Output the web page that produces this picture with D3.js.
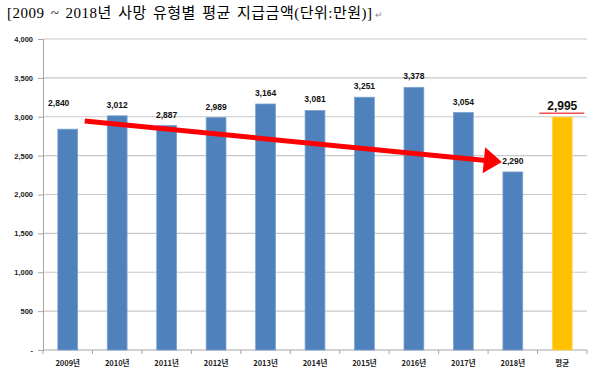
<!DOCTYPE html>
<html>
<head>
<meta charset="utf-8">
<script src="https://d3js.org/d3.v7.min.js"></script>
<style>
  body { margin: 0; background: #fff; }
</style>
</head>
<body>
<script>
// chart data
const categories = ["2009년", "2010년", "2011년", "2012년", "2013년", "2014년", "2015년", "2016년", "2017년", "2018년", "평균"];
const values = [2840, 3012, 2887, 2989, 3164, 3081, 3251, 3378, 3054, 2290, 2995];
const yTicks = [0, 500, 1000, 1500, 2000, 2500, 3000, 3500, 4000];
const titleText = "[2009 ~ 2018년 사망 유형별 평균 지급금액(단위:만원)]";
// trend arrow: from 2009 to 2018, in data units
const arrowFrom = { cat: "2009년", value: 2945 };
const arrowTo = { cat: "2018년", value: 2418 };

const width = 599, height = 373;
const margin = { left: 43, right: 12, top: 39, bottom: 23 };

const svg = d3.select("body").append("svg")
    .attr("width", width)
    .attr("height", height);

let title = svg.append("text")
    .attr("x", 7)
    .attr("y", 18)
    .attr("font-family", "'Liberation Serif', 'Noto Sans CJK KR', serif")
    .attr("font-size", "15px")
    .attr("letter-spacing", "0.5px")
    .attr("word-spacing", "2px")
    .attr("fill", "#000");
title.append("tspan").text(titleText);
title.append("tspan")
    .attr("font-size", "9px")
    .attr("fill", "#888")
    .attr("dx", 2)
    .text("↵");

let x = d3.scaleBand()
    .domain(categories)
    .range([margin.left, width - margin.right])
    .paddingInner(0.6)
    .paddingOuter(0.3);

let y = d3.scaleLinear()
    .domain([0, 4000])
    .range([height - margin.bottom, margin.top]);

// gridlines
svg.append("g")
    .selectAll("line")
    .data(yTicks.slice(1))
    .join("line")
        .attr("x1", margin.left)
        .attr("x2", width - margin.right)
        .attr("y1", d => y(d))
        .attr("y2", d => y(d))
        .attr("stroke", "#c8c8c8")
        .attr("stroke-width", 1.2);

// y axis
let yAxis = d3.axisLeft(y)
    .tickValues(yTicks)
    .tickSize(5)
    .tickFormat(d => d === 0 ? "-" : d3.format(",")(d));

let gy = svg.append("g")
    .attr("transform", `translate(${margin.left},0)`)
    .call(yAxis);
gy.select(".domain").attr("stroke", "#a6a6a6");
gy.selectAll(".tick line").attr("stroke", "#a6a6a6");
gy.selectAll("text")
    .attr("x", -10)
    .attr("font-family", "'Liberation Sans', Arial, sans-serif")
    .attr("font-weight", "bold")
    .attr("font-size", "7.5px")
    .attr("fill", "#222");

// x axis line + tick marks between categories
let step = x.step();
let gx = svg.append("g");
gx.append("line")
    .attr("x1", margin.left)
    .attr("x2", width - margin.right)
    .attr("y1", y(0))
    .attr("y2", y(0))
    .attr("stroke", "#a6a6a6");
gx.selectAll("line.tk")
    .data(d3.range(categories.length + 1))
    .join("line")
        .attr("class", "tk")
        .attr("x1", i => margin.left + i * step)
        .attr("x2", i => margin.left + i * step)
        .attr("y1", y(0))
        .attr("y2", y(0) + 4)
        .attr("stroke", "#a6a6a6");
gx.selectAll("text")
    .data(categories)
    .join("text")
        .attr("x", d => x(d) + x.bandwidth() / 2)
        .attr("y", y(0) + 16)
        .attr("text-anchor", "middle")
        .attr("font-family", "'Noto Sans CJK KR', 'Liberation Sans', sans-serif")
        .attr("font-weight", "bold")
        .attr("font-size", "7.5px")
        .attr("fill", "#222")
        .text(d => d);

// bars
svg.append("g")
    .selectAll("rect")
    .data(categories)
    .join("rect")
        .attr("x", d => x(d))
        .attr("y", (d, i) => y(values[i]))
        .attr("width", x.bandwidth())
        .attr("height", (d, i) => y(0) - y(values[i]))
        .attr("fill", d => d === "평균" ? "#FFC000" : "#4F81BD")
        .attr("stroke", d => d === "평균" ? "#ffd34d" : "#7a9fcf")
        .attr("stroke-width", 0.8);

// value labels
svg.append("g")
    .selectAll("text")
    .data(categories)
    .join("text")
        .attr("x", (d, i) => i === 0 ? x(d) + x.bandwidth() / 2 - 9 : x(d) + x.bandwidth() / 2)
        .attr("y", (d, i) => i === 0 ? y(values[i]) - 23 :
                              i === 9 ? y(values[i]) - 8 :
                              i === 10 ? y(values[i]) - 7 : y(values[i]) - 8)
        .attr("text-anchor", "middle")
        .attr("font-family", "'Liberation Sans', Arial, sans-serif")
        .attr("font-weight", "bold")
        .attr("font-size", (d, i) => i === 10 ? "12px" : "8.5px")
        .attr("fill", "#111")
        .text((d, i) => d3.format(",")(values[i]));

// red underline under average label
let avgCat = categories[10];
svg.append("line")
    .attr("x1", x(avgCat) + x.bandwidth() / 2 - 23)
    .attr("x2", x(avgCat) + x.bandwidth() / 2 + 22)
    .attr("y1", y(values[10]) - 4)
    .attr("y2", y(values[10]) - 4)
    .attr("stroke", "#f05050")
    .attr("stroke-width", 1.5);

// trend arrow
let ax0 = x(arrowFrom.cat) + x.bandwidth() / 2 + 17;
let ay0 = y(arrowFrom.value);
let ax1 = x(arrowTo.cat) + x.bandwidth() / 2 - 11;
let ay1 = y(arrowTo.value);
let ang = Math.atan2(ay1 - ay0, ax1 - ax0);
let headLen = 18, headHalf = 13;
let bx = ax1 - headLen * Math.cos(ang), by = ay1 - headLen * Math.sin(ang);
svg.append("line")
    .attr("x1", ax0).attr("y1", ay0)
    .attr("x2", bx + 2 * Math.cos(ang)).attr("y2", by + 2 * Math.sin(ang))
    .attr("stroke", "#ff0000")
    .attr("stroke-width", 5);
svg.append("path")
    .attr("d", d3.line()([
        [ax1, ay1],
        [bx - headHalf * Math.sin(ang), by + headHalf * Math.cos(ang)],
        [bx + headHalf * Math.sin(ang), by - headHalf * Math.cos(ang)]
    ]) + "Z")
    .attr("fill", "#ff0000");
</script>
</body>
</html>
